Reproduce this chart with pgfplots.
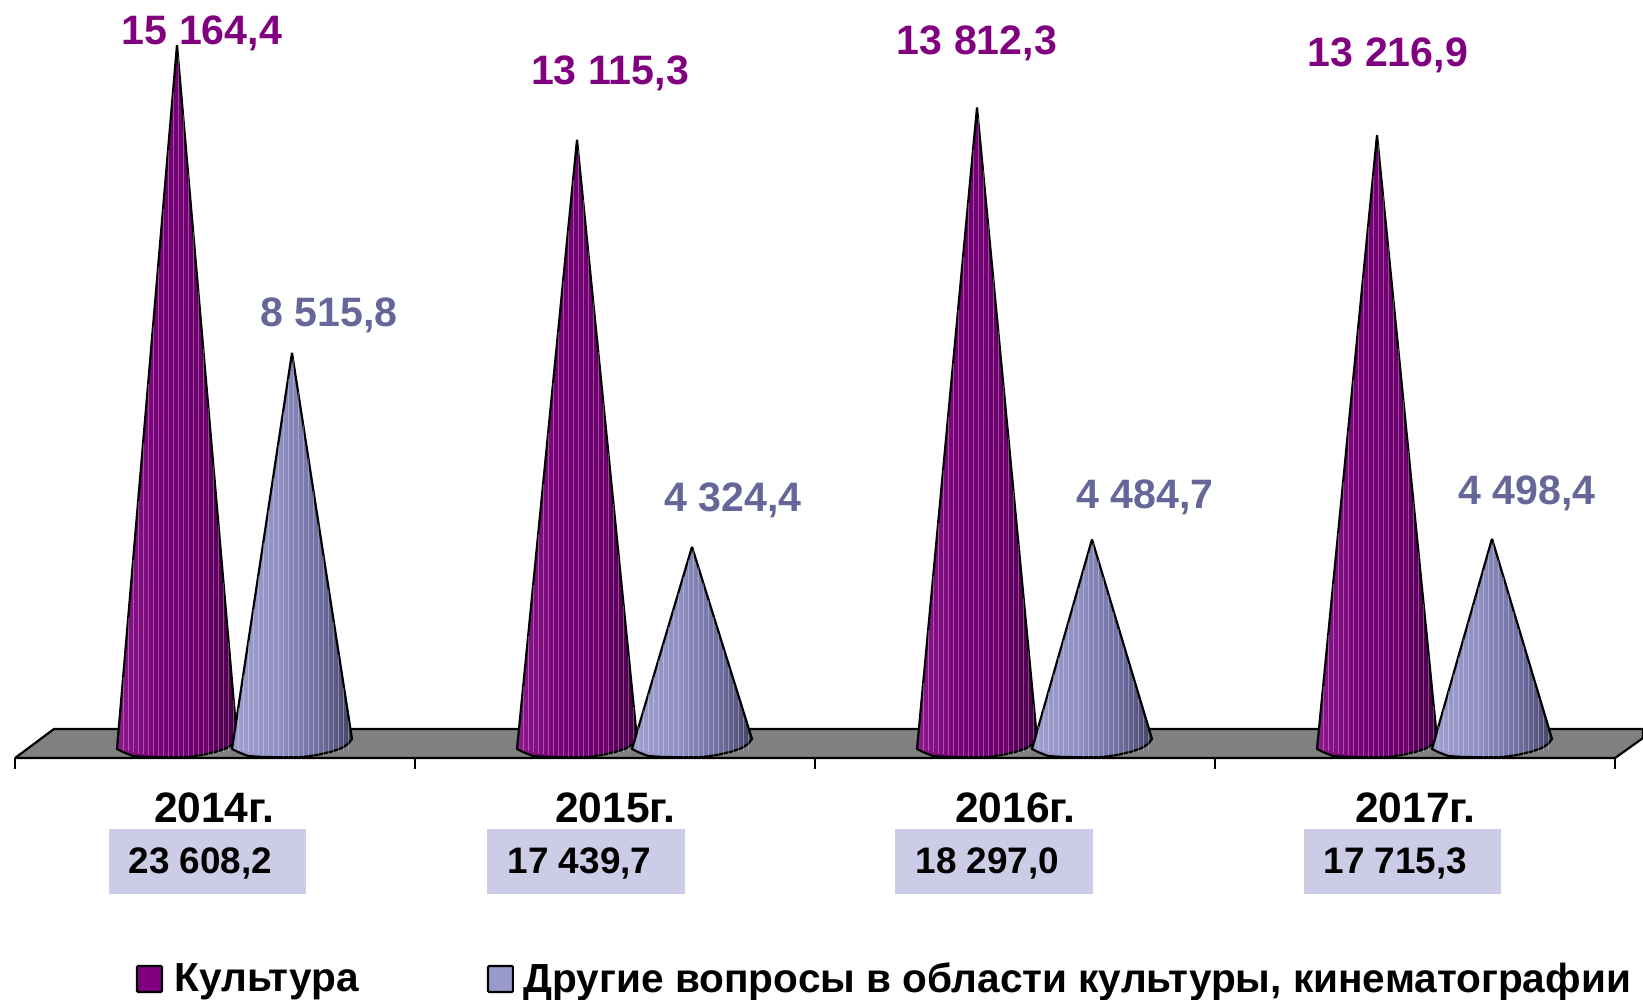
\documentclass[border=0pt]{standalone}
\usepackage{pgfplots}
\pgfplotsset{compat=1.18}
\usepackage{fontspec}
\setmainfont{Liberation Sans}

\definecolor{kult}{HTML}{800080}
\definecolor{drug}{HTML}{666699}
\definecolor{boxc}{HTML}{CCCCE6}
\definecolor{legb}{HTML}{9999CC}

\pgfdeclarehorizontalshading{kultsh}{100bp}{
  color(0bp)=(kult!90!white); color(25bp)=(kult!90!white);
  color(42bp)=(kult!95!black); color(62bp)=(kult!85!black);
  color(75bp)=(kult!55!black); color(100bp)=(kult!55!black)}
\pgfdeclarehorizontalshading{drugsh}{100bp}{
  color(0bp)=(legb!95!white); color(25bp)=(legb!95!white);
  color(45bp)=(legb!80!drug); color(62bp)=(drug!85!legb);
  color(75bp)=(drug!65!black); color(100bp)=(drug!65!black)}

% px position in the reference -> axis
\newcommand\labsize{11.55pt}
\newcommand\lab[5][center]{%
  \pgfmathsetmacro\rx{#2/1643}\pgfmathsetmacro\ry{1-#3/1000}%
  \edef\temp{\noexpand\node[font=\noexpand\fontsize{\labsize}{13pt}\noexpand\selectfont\noexpand\bfseries,text=#4,anchor=#1,inner sep=0pt]
    at (rel axis cs:\rx,\ry) {\unexpanded{#5}};}\temp}

% cone: centre in categories, value, shading
\newcommand\cone[3]{%
  \pgfmathsetmacro\a{#1-0.15}\pgfmathsetmacro\aa{#1-0.135}\pgfmathsetmacro\b{#1-0.11}\pgfmathsetmacro\c{#1-0.075}%
  \pgfmathsetmacro\d{#1+0.025}\pgfmathsetmacro\e{#1+0.0625}\pgfmathsetmacro\f{#1+0.10}%
  \pgfmathsetmacro\g{#1+0.125}\pgfmathsetmacro\gg{#1+0.14}\pgfmathsetmacro\h{#1+0.15}%
  \edef\temp{\noexpand\addplot[draw=black,line width=0.62pt,line join=round,shading=#3]
    coordinates {(#1,#2) (\h,173) (\gg,65) (\g,-22) (\f,-97) (\e,-173) (\d,-216) (#1,-222) (\c,-216) (\b,-194) (\aa,-108) (\a,-43) (#1,#2)};}\temp
  \gdef\acc{}%
  \foreach \k in {-54,-49,...,56}{%
    \pgfmathsetmacro\sx{#1+\k/400}%
    \pgfmathsetmacro\sb{-40-170*(1-(\k/60)^2)}%
    \pgfmathsetmacro\st{#2*(1-abs(\k)/60)}%
    \xdef\acc{\acc (\sx,\sb) (\sx,\st) (\sx,nan) }}%
  \edef\temp{\noexpand\addplot[white,opacity=0.3,line width=0.2pt,unbounded coords=jump]
    coordinates {\acc};}\temp}

\begin{document}
\begin{tikzpicture}
\begin{axis}[
  scale only axis,width=16.43cm,height=10cm,
  xmin=-0.0375,xmax=4.07,ymin=-5464,ymax=16134,
  axis lines=none,clip=false]

% floor and ticks
\addplot[fill=gray,draw=black,line width=0.62pt,line join=round]
  coordinates {(0,-238) (0.0975,389) (4.07,389) (4.07,194) (4,-238) (0,-238)};
\addplot[black,line width=0.62pt,unbounded coords=jump] coordinates {
  (0,-238) (0,-475) (0,nan)
  (1,-238) (1,-475) (1,nan)
  (2,-238) (2,-475) (2,nan)
  (3,-238) (3,-475) (3,nan)
  (4,-238) (4,-475)};

% Культура / Другие вопросы
\cone{0.405}{15164.4}{kultsh}
\cone{0.6925}{8515.8}{drugsh}
\cone{1.405}{13115.3}{kultsh}
\cone{1.6925}{4324.4}{drugsh}
\cone{2.405}{13812.3}{kultsh}
\cone{2.6925}{4484.7}{drugsh}
\cone{3.405}{13216.9}{kultsh}
\cone{3.6925}{4498.4}{drugsh}

% value labels
\renewcommand\labsize{11.7pt}
\lab{202}{33}{kult}{15 164,4}
\lab{610}{73}{kult}{13 115,3}
\lab{977}{43}{kult}{13 812,3}
\lab{1388}{55}{kult}{13 216,9}
\lab{329}{315}{drug}{8 515,8}
\lab{733}{500}{drug}{4 324,4}
\lab{1145}{497}{drug}{4 484,7}
\lab{1527}{493}{drug}{4 498,4}

% years
\renewcommand\labsize{12.1pt}
\lab{214}{808}{black}{2014г.}
\lab{615}{808}{black}{2015г.}
\lab{1015}{808}{black}{2016г.}
\lab{1415}{808}{black}{2017г.}

% totals
\fill[boxc] (rel axis cs:0.06634,0.171) rectangle (rel axis cs:0.18625,0.106);
\fill[boxc] (rel axis cs:0.29641,0.171) rectangle (rel axis cs:0.41692,0.106);
\fill[boxc] (rel axis cs:0.54474,0.171) rectangle (rel axis cs:0.66525,0.106);
\fill[boxc] (rel axis cs:0.79367,0.171) rectangle (rel axis cs:0.91357,0.106);
\renewcommand\labsize{10.5pt}
\lab[west]{128}{863}{black}{23 608,2}
\lab[west]{507}{863}{black}{17 439,7}
\lab[west]{915}{863}{black}{18 297,0}
\lab[west]{1323}{863}{black}{17 715,3}

% legend
\fill[draw=black,line width=0.6pt,rounded corners=0.3pt,fill=kult] (rel axis cs:0.0834,0.034) rectangle (rel axis cs:0.0986,0.008);
\fill[draw=black,line width=0.6pt,rounded corners=0.3pt,fill=legb] (rel axis cs:0.2970,0.034) rectangle (rel axis cs:0.3122,0.008);
\renewcommand\labsize{11.55pt}
\lab[west]{174}{982}{black}{Культура}
\lab[west]{523}{982}{black}{Другие вопросы в области культуры, кинематографии}
\end{axis}
\pgfresetboundingbox
\path (0,0) rectangle (16.43,10);
\end{tikzpicture}
\end{document}
